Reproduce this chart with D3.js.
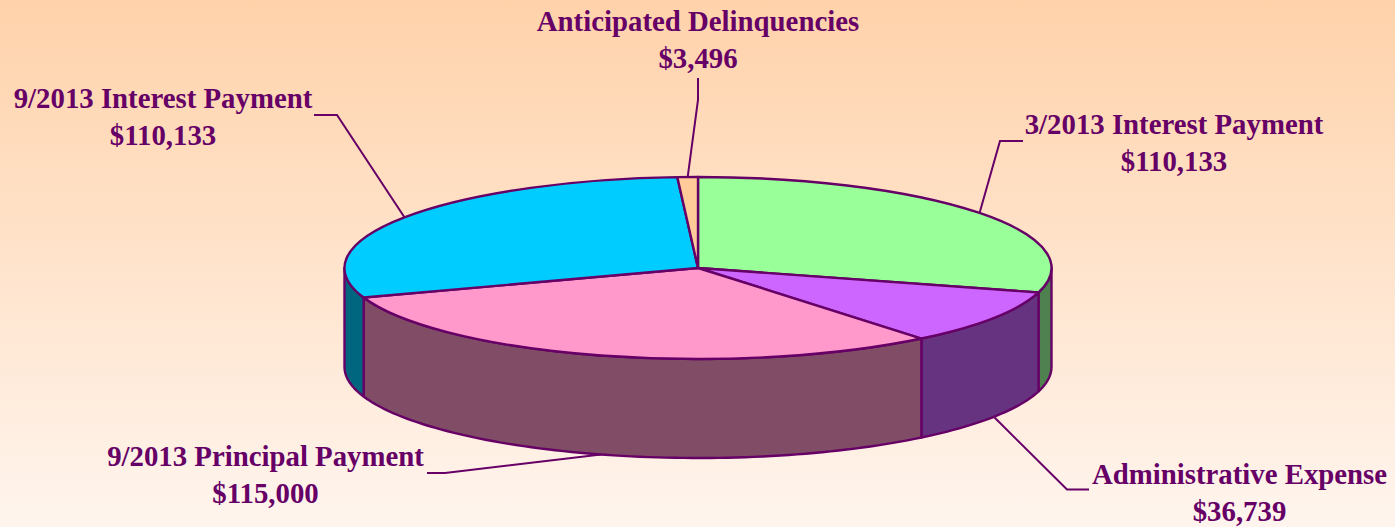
<!DOCTYPE html>
<html>
<head>
<meta charset="utf-8">
<script src="https://cdn.jsdelivr.net/npm/d3@7"></script>
<style>
  html, body { margin: 0; padding: 0; background: #fff; }
  svg { display: block; }
  text { font-family: "Liberation Serif", serif; font-weight: bold; font-size: 28.8px; fill: #660066; text-anchor: middle; }
</style>
</head>
<body>
<div id="chart"></div>
<script>
// values
var categories = ["3/2013 Interest Payment", "Administrative Expense", "9/2013 Principal Payment", "9/2013 Interest Payment", "Anticipated Delinquencies"];
var values = [110133, 36739, 115000, 110133, 3496];
var topColors = ["#99ff99", "#cc66ff", "#ff99cc", "#00ccff", "#ffcc99"];
var sideColors = ["#4f804f", "#663380", "#804c66", "#006680", "#806650"];

var width = 1395, height = 527;
var cx = 698, cy = 268, rx = 353.5, ry = 91, depth = 99;
var lineColor = "#660066";

// label centre, and the elbow of the leader line, one per slice
var labelX = [1174, 1239.5, 265.5, 163, 698];
var labelY = [133.7, 483.7, 465.7, 107.7, 30.7];
var elbowFrom = [[1023, 141], [1089, 489.5], [427, 473], [314, 115], [698, 78]];
var elbowMid = [[1000, 141], [1067, 489.5], [445, 473], [337, 115], [698, 100]];

var svg = d3.select("#chart").append("svg")
    .attr("width", width)
    .attr("height", height);

var grad = svg.append("defs").append("linearGradient")
    .attr("id", "bg")
    .attr("x1", 0).attr("y1", 0)
    .attr("x2", 0).attr("y2", 1);
grad.append("stop").attr("offset", "0%").attr("stop-color", "#ffd2aa");
grad.append("stop").attr("offset", "100%").attr("stop-color", "#fff5ee");

svg.append("rect")
    .attr("width", width)
    .attr("height", height)
    .attr("fill", "url(#bg)");

var pie = d3.pie().sort(null).value(function (d) { return d; });
var slices = pie(values);

// flattened circle -> point on the rim
function rimX(a) { return cx + rx * Math.sin(a); }
function rimY(a) { return cy - ry * Math.cos(a); }

var line = d3.line();

function sidePath(a0, a1) {
    var pts = [];
    var n = Math.max(2, Math.ceil((a1 - a0) * 40));
    var i;
    for (i = 0; i <= n; i++) {
        var a = a0 + (a1 - a0) * i / n;
        pts.push([rimX(a), rimY(a)]);
    }
    for (i = n; i >= 0; i--) {
        var b = a0 + (a1 - a0) * i / n;
        pts.push([rimX(b), rimY(b) + depth]);
    }
    return line(pts) + "Z";
}

// leaders go under the pie
slices.forEach(function (s, i) {
    var mid = (s.startAngle + s.endAngle) / 2;
    var front = Math.cos(mid) < 0;
    var end = [rimX(mid), rimY(mid) + (front ? depth : 0)];
    svg.append("path")
        .attr("d", line([elbowFrom[i], elbowMid[i], end]))
        .attr("fill", "none")
        .attr("stroke", lineColor)
        .attr("stroke-width", 2);
});

// side walls, only the part facing us
var sides = svg.append("g");
slices.forEach(function (s, i) {
    var a0 = Math.max(s.startAngle, Math.PI / 2);
    var a1 = Math.min(s.endAngle, Math.PI * 3 / 2);
    if (a1 <= a0) return;
    sides.append("path")
        .attr("d", sidePath(a0, a1))
        .attr("fill", sideColors[i])
        .attr("stroke", lineColor)
        .attr("stroke-width", 2.4)
        .attr("stroke-linejoin", "round");
});

// top face
var arc = d3.arc().innerRadius(0).outerRadius(rx);
svg.append("g")
    .attr("transform", "translate(" + cx + "," + cy + ") scale(1," + (ry / rx) + ")")
    .selectAll("path")
    .data(slices)
    .enter().append("path")
    .attr("d", arc)
    .attr("fill", function (d, i) { return topColors[i]; })
    .attr("stroke", lineColor)
    .attr("stroke-width", 2.4)
    .attr("stroke-linejoin", "round")
    .attr("vector-effect", "non-scaling-stroke");

// labels
slices.forEach(function (s, i) {
    svg.append("text").attr("x", labelX[i]).attr("y", labelY[i]).text(categories[i]);
    svg.append("text").attr("x", labelX[i]).attr("y", labelY[i] + 37).text("$" + d3.format(",")(values[i]));
});
</script>
</body>
</html>
